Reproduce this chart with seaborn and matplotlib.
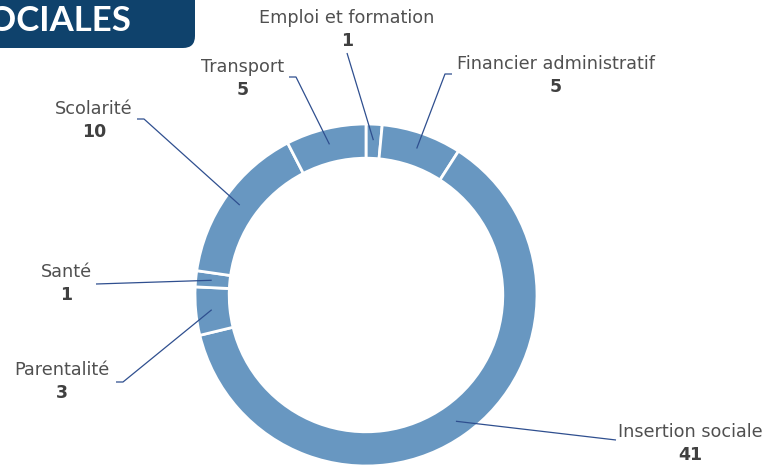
import numpy as np
import matplotlib
matplotlib.use("Agg")
import matplotlib.pyplot as plt
from matplotlib.patches import FancyBboxPatch
import seaborn as sns

categories = ["Emploi et formation", "Financier administratif", "Insertion sociale",
              "Parentalité", "Santé", "Scolarité", "Transport"]
values = [1, 5, 41, 3, 1, 10, 5]

sns.set_theme(style="white")
plt.rcParams["font.family"] = ["DejaVu Sans"]

W, H = 765, 466
fig = plt.figure(figsize=(W / 100, H / 100), dpi=100)
ax = fig.add_axes([0, 0, 1, 1])

ring_color = "#6897c1"
cx, cy, R = 366, H - 295, 171
ax.pie(values, startangle=90, counterclock=False, center=(cx, cy), radius=R,
       colors=[ring_color] * len(values),
       wedgeprops=dict(width=R * 0.2, edgecolor="white", linewidth=2))
# pie resets the limits, so set the pixel frame afterwards
ax.set_xlim(0, W)
ax.set_ylim(0, H)
ax.set_aspect("equal")
ax.axis("off")

# label layout: (name x, name y, stub start x, stub end x, stub y) in pixels from top-left
layout = {
    "Emploi et formation":    (347, 18, None, None, 53),
    "Financier administratif": (556, 64, 452, 445, 74),
    "Insertion sociale":      (690, 432, 616, 616, 440),
    "Parentalité":            (62, 370, 116, 123, 382),
    "Santé":                  (66, 272, 96, 96, 284),
    "Scolarité":              (94, 109, 137, 144, 119),
    "Transport":              (243, 67, 289, 296, 77),
}

line_color = "#2f4f8f"
name_color = "#505050"
value_color = "#404040"
total = sum(values)
start = 90.0
for cat, v in zip(categories, values):
    span = 360.0 * v / total
    mid = np.deg2rad(start - span / 2)
    start -= span
    px, py = cx + 155 * np.cos(mid), cy + 155 * np.sin(mid)
    nx, ny, sx0, sx1, sy = layout[cat]
    if sx0 is None:
        xs, ys = [nx, px], [H - sy, py]
    else:
        xs, ys = [sx0, sx1, px], [H - sy, H - sy, py]
    ax.plot(xs, ys, color=line_color, lw=0.9, solid_capstyle="butt")
    ax.text(nx, H - ny, cat, ha="center", va="center", fontsize=12.7, color=name_color)
    ax.text(nx, H - ny - 23, str(v), ha="center", va="center", fontsize=12.5,
            fontweight="bold", color=value_color)

# header tab, cut off at the top-left
box = FancyBboxPatch((-40, H - 48), 235, 80, boxstyle="round,pad=0,rounding_size=12",
                     facecolor="#0f426c", edgecolor="none")
ax.add_patch(box)
ax.text(131, H - 21, "SOCIALES", ha="right", va="center", fontsize=25,
        fontweight="bold", color="white", family=["Lato", "DejaVu Sans"])

fig.savefig("out.png", dpi=100)
